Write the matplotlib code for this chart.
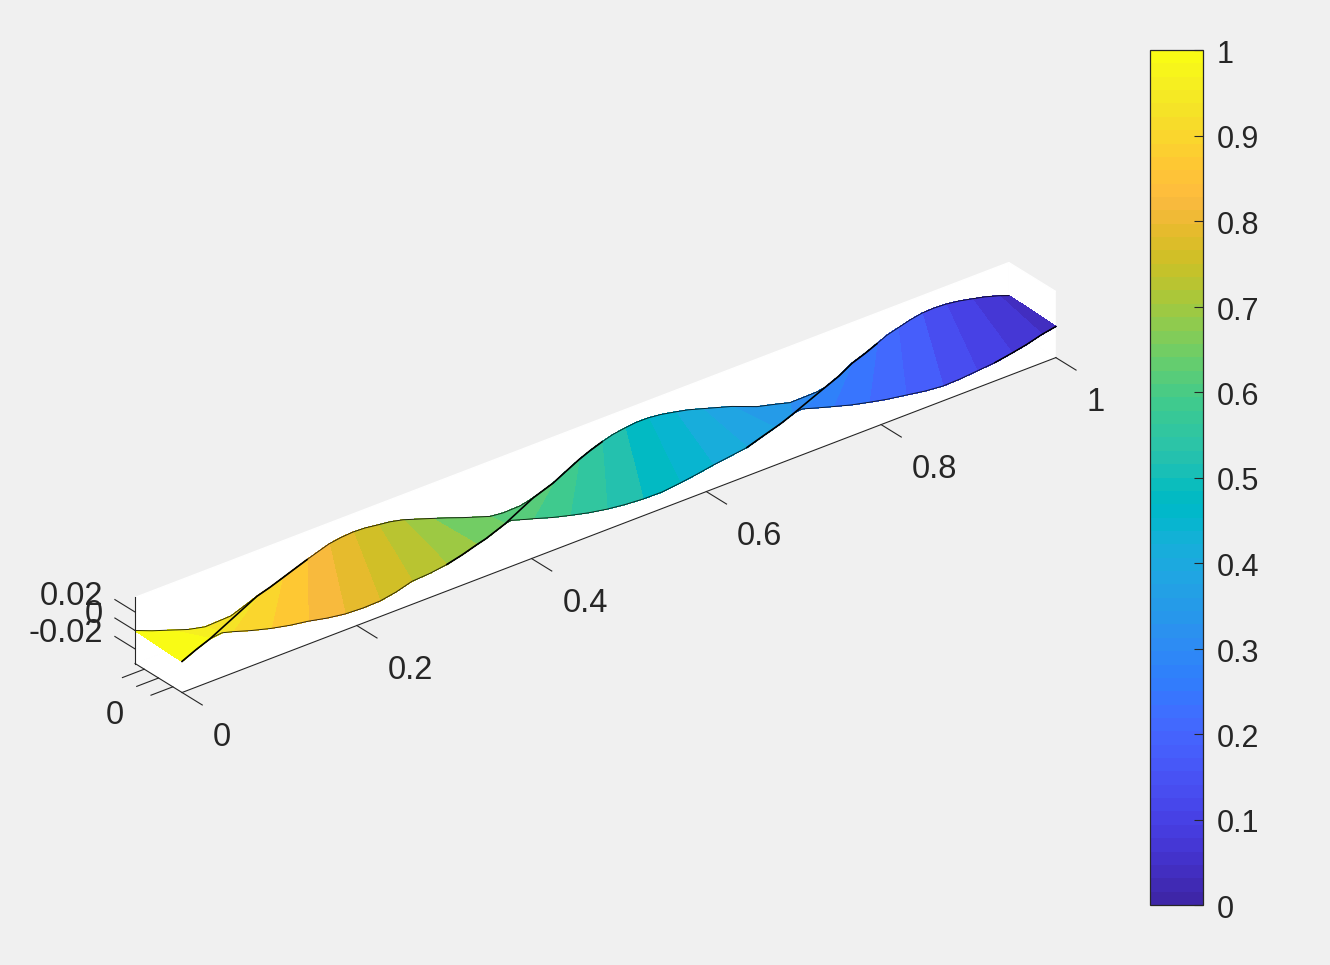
"""
Twisted ribbon surface with parula colouring and a colorbar.
"""

import numpy as np
from matplotlib import pyplot as plt
from matplotlib.cm import ScalarMappable
from matplotlib.colors import ListedColormap, Normalize
from matplotlib.transforms import ScaledTranslation

PARULA = [
    (0.2422, 0.1504, 0.6603), (0.2504, 0.1650, 0.7076), (0.2578, 0.1818, 0.7511),
    (0.2647, 0.1978, 0.7952), (0.2706, 0.2147, 0.8364), (0.2751, 0.2342, 0.8710),
    (0.2783, 0.2559, 0.8991), (0.2803, 0.2782, 0.9221), (0.2813, 0.3006, 0.9414),
    (0.2810, 0.3228, 0.9579), (0.2795, 0.3447, 0.9717), (0.2760, 0.3667, 0.9829),
    (0.2699, 0.3892, 0.9906), (0.2602, 0.4123, 0.9952), (0.2440, 0.4358, 0.9988),
    (0.2206, 0.4603, 0.9973), (0.1963, 0.4847, 0.9892), (0.1834, 0.5074, 0.9798),
    (0.1786, 0.5289, 0.9682), (0.1764, 0.5499, 0.9520), (0.1687, 0.5703, 0.9359),
    (0.1540, 0.5902, 0.9218), (0.1460, 0.6091, 0.9079), (0.1380, 0.6276, 0.8973),
    (0.1248, 0.6459, 0.8883), (0.1113, 0.6635, 0.8763), (0.0952, 0.6798, 0.8598),
    (0.0689, 0.6948, 0.8394), (0.0297, 0.7082, 0.8163), (0.0036, 0.7203, 0.7917),
    (0.0067, 0.7312, 0.7660), (0.0433, 0.7411, 0.7394), (0.0964, 0.7500, 0.7120),
    (0.1408, 0.7584, 0.6842), (0.1717, 0.7670, 0.6554), (0.1938, 0.7758, 0.6251),
    (0.2161, 0.7843, 0.5923), (0.2470, 0.7918, 0.5567), (0.2906, 0.7973, 0.5188),
    (0.3406, 0.8008, 0.4789), (0.3909, 0.8029, 0.4354), (0.4456, 0.8024, 0.3909),
    (0.5044, 0.7993, 0.3480), (0.5616, 0.7942, 0.3045), (0.6174, 0.7876, 0.2612),
    (0.6720, 0.7793, 0.2227), (0.7242, 0.7698, 0.1910), (0.7738, 0.7598, 0.1646),
    (0.8203, 0.7498, 0.1535), (0.8634, 0.7406, 0.1596), (0.9035, 0.7330, 0.1774),
    (0.9393, 0.7288, 0.2100), (0.9728, 0.7298, 0.2394), (0.9956, 0.7434, 0.2371),
    (0.9970, 0.7659, 0.2199), (0.9952, 0.7861, 0.1990), (0.9892, 0.8136, 0.1885),
    (0.9786, 0.8386, 0.1766), (0.9676, 0.8639, 0.1643), (0.9610, 0.8890, 0.1537),
    (0.9597, 0.9135, 0.1423), (0.9628, 0.9373, 0.1265), (0.9691, 0.9606, 0.1064),
    (0.9769, 0.9839, 0.0805),
]

# ribbon mesh, back edge (y max) and front edge (y min)
x_back = [0.0000, 0.0195, 0.0400, 0.0606, 0.0801, 0.1098, 0.1396, 0.1545, 0.1682, 0.1831,
          0.1968, 0.2094, 0.2220, 0.2357, 0.2494, 0.2632, 0.2780, 0.2918, 0.3066, 0.3227,
          0.3398, 0.3570, 0.3753, 0.4062, 0.4211, 0.4405, 0.4554, 0.4783, 0.4931, 0.5080,
          0.5206, 0.5343, 0.5469, 0.5606, 0.5732, 0.5870, 0.6018, 0.6178, 0.6327, 0.6487,
          0.6659, 0.6831, 0.7117, 0.7346, 0.7494, 0.7689, 0.7803, 0.7895, 0.8055, 0.8204,
          0.8352, 0.8490, 0.8604, 0.8730, 0.8867, 0.9005, 0.9142, 0.9279, 0.9428, 0.9577,
          0.9725, 0.9886, 0.9943, 1.0000]
z_back = [0.0000, -0.0074, -0.0141, -0.0209, -0.0251, -0.0240, -0.0135, -0.0092, -0.0045, 0.0007,
          0.0054, 0.0094, 0.0133, 0.0153, 0.0162, 0.0156, 0.0136, 0.0119, 0.0087, 0.0036,
          -0.0019, -0.0075, -0.0139, -0.0238, -0.0254, -0.0249, -0.0217, -0.0139, -0.0065, 0.0008,
          0.0059, 0.0105, 0.0140, 0.0160, 0.0174, 0.0173, 0.0157, 0.0126, 0.0095, 0.0049,
          -0.0001, -0.0051, -0.0157, -0.0212, -0.0251, -0.0249, -0.0246, -0.0232, -0.0166, -0.0082,
          -0.0030, 0.0027, 0.0077, 0.0110, 0.0146, 0.0171, 0.0176, 0.0169, 0.0149, 0.0118,
          0.0086, 0.0040, 0.0020, 0.0000]
x_front = [0.0000, 0.0160, 0.0320, 0.0389, 0.0458, 0.0515, 0.0572, 0.0789, 0.1018, 0.1236,
           0.1442, 0.1659, 0.1865, 0.2071, 0.2265, 0.2449, 0.2632, 0.2838, 0.3032, 0.3204,
           0.3375, 0.3478, 0.3593, 0.3696, 0.3764, 0.3844, 0.3936, 0.4016, 0.4233, 0.4439,
           0.4657, 0.4863, 0.5069, 0.5275, 0.5492, 0.5698, 0.5892, 0.6076, 0.6270, 0.6465,
           0.6625, 0.6785, 0.6865, 0.6922, 0.6979, 0.7037, 0.7071, 0.7105, 0.7277, 0.7449,
           0.7654, 0.7860, 0.8066, 0.8284, 0.8501, 0.8707, 0.8902, 0.9096, 0.9302, 0.9497,
           0.9668, 0.9840, 0.9920, 1.0000]
z_front = [-0.0021, 0.0048, 0.0108, 0.0116, 0.0123, 0.0108, 0.0093, 0.0027, -0.0033, -0.0078,
           -0.0109, -0.0154, -0.0184, -0.0194, -0.0189, -0.0158, -0.0108, -0.0096, -0.0070, -0.0030,
           0.0020, 0.0047, 0.0090, 0.0128, 0.0141, 0.0118, 0.0090, 0.0068, 0.0002, -0.0050,
           -0.0100, -0.0136, -0.0161, -0.0176, -0.0179, -0.0157, -0.0131, -0.0100, -0.0075, -0.0049,
           0.0001, 0.0049, 0.0074, 0.0096, 0.0118, 0.0135, 0.0138, 0.0137, 0.0086, 0.0037,
           -0.0020, -0.0066, -0.0108, -0.0142, -0.0177, -0.0197, -0.0192, -0.0176, -0.0159, -0.0127,
           -0.0094, -0.0049, -0.0035, -0.0021]
face_values = [1.000, 0.966, 0.931, 0.897, 0.862, 0.828, 0.793, 0.759, 0.724, 0.690,
               0.655, 0.621, 0.586, 0.552, 0.517, 0.483, 0.448, 0.414, 0.379, 0.345,
               0.310, 0.276, 0.241, 0.207, 0.172, 0.138, 0.103, 0.069, 0.034]
# mesh cells that make up each flat coloured face
cells_per_face = [2, 2, 2, 2, 2, 2, 2, 2, 2, 2,
                  3, 4, 2, 2, 2, 2, 2, 2, 2, 3,
                  3, 2, 2, 2, 2, 2, 2, 2, 2]

x_ticks = [0, 0.2, 0.4, 0.6, 0.8, 1]
x_tick_labels = ['0', '0.2', '0.4', '0.6', '0.8', '1']
y_ticks = [-0.02, 0, 0.02]
z_ticks = [-0.02, 0, 0.02]
z_tick_labels = ['-0.02', '0', '0.02']
cbar_ticks = [0, 0.1, 0.2, 0.3, 0.4, 0.5, 0.6, 0.7, 0.8, 0.9, 1]
cbar_tick_labels = ['0', '0.1', '0.2', '0.3', '0.4', '0.5', '0.6', '0.7', '0.8', '0.9', '1']

Y_LIM = 0.0329
Z_LIM = 0.0358
BG = '#f0f0f0'
INK = '#262626'

plt.rcParams['font.family'] = ['Liberation Sans', 'DejaVu Sans']

W, H = 1330, 965
fig = plt.figure(figsize=(W / 100, H / 100), dpi=100, facecolor=BG)
parula = ListedColormap(PARULA)
norm = Normalize(0, 1)

side = 1085
ax = fig.add_axes([38.3 / W, -69.7 / H, side / W, side / H],
                  projection='3d', computed_zorder=False)
ax.patch.set_facecolor(BG)
ax.set_proj_type('ortho')
ax.view_init(elev=29.1, azim=231.76)
ax.set_box_aspect((1112.5, 75.9, 75.6))
ax.set_xlim(0, 1, view_margin=0)
ax.set_ylim(-Y_LIM, Y_LIM, view_margin=0)
ax.set_zlim(-Z_LIM, Z_LIM, view_margin=0)

# white box walls only, the axis lines are drawn below
ax.grid(False)
ax.set_xticks([])
ax.set_yticks([])
ax.set_zticks([])
for axis in (ax.xaxis, ax.yaxis, ax.zaxis):
    axis.set_pane_color('white')
    axis.pane.set_edgecolor('white')
    axis.line.set_color((0, 0, 0, 0))

n_cols = len(x_back)
y_back = [Y_LIM] * n_cols
y_front = [-Y_LIM] * n_cols
X = np.array([x_back, x_front])
Y = np.array([y_back, y_front])
Z = np.array([z_back, z_front])
cell_values = np.repeat(face_values, cells_per_face)
colors = parula(norm(np.append(cell_values, cell_values[-1])))
# no antialiasing here, it leaves light streaks between cells of one face
ax.plot_surface(X, Y, Z, rcount=2, ccount=n_cols, facecolors=np.stack([colors, colors]),
                shade=False, linewidth=0.3, antialiased=False, zorder=1)

# thin outline along both edges
ax.plot(x_back, y_back, z_back, color='black', lw=0.7, alpha=0.8, zorder=2)
ax.plot(x_front, y_front, z_front, color='black', lw=0.7, alpha=0.8, zorder=2)
ax.plot(x_front[-6:], y_front[-6:], z_front[-6:], color='black', lw=1.0, zorder=2)

# the darker line where the ribbon turns edge-on, (front columns, back columns)
for front_cols, back_cols in [((0, 3), (6, 11)), ((18, 24), (26, 32)), ((39, 45), (47, 52))]:
    i0, i1 = front_cols
    j0, j1 = back_cols
    xs = x_front[i0:i1] + x_back[j0:j1]
    ys = y_front[i0:i1] + y_back[j0:j1]
    zs = z_front[i0:i1] + z_back[j0:j1]
    ax.plot(xs, ys, zs, color='black', lw=1.2, zorder=3)

# axis lines
ax.plot([0, 1], [-Y_LIM, -Y_LIM], [-Z_LIM, -Z_LIM], color=INK, lw=0.8, zorder=2)
ax.plot([0, 0], [-Y_LIM, Y_LIM], [-Z_LIM, -Z_LIM], color=INK, lw=0.8, zorder=2)
ax.plot([0, 0], [Y_LIM, Y_LIM], [-Z_LIM, Z_LIM], color=INK, lw=0.8, zorder=2)

span = 2 * Y_LIM
for tick, label in zip(x_ticks, x_tick_labels):
    ax.plot([tick, tick], [-Y_LIM, -Y_LIM - 0.43 * span], [-Z_LIM, -Z_LIM], color=INK, lw=0.8, zorder=2)
    ax.text(tick - 0.0297, -Y_LIM - 1.21 * span, -Z_LIM, label, ha='left', va='center',
            fontsize=23.5, color=INK, zorder=4)
for tick in y_ticks:
    ax.plot([0, -0.025], [tick, tick], [-Z_LIM, -Z_LIM], color=INK, lw=0.8, zorder=2)
ax.text(-0.074, -0.45 * span, -Z_LIM, '0', ha='center', va='center',
        fontsize=23.5, color=INK, zorder=4)
for tick, label in zip(z_ticks, z_tick_labels):
    ax.plot([0, 0], [Y_LIM, Y_LIM + 0.43 * span], [tick, tick], color=INK, lw=0.8, zorder=2)
    ax.text(0, Y_LIM + 0.68 * span, tick - 0.0045, label, ha='right', va='center',
            fontsize=23.5, color=INK, zorder=4)

cax = fig.add_axes([1149.5 / W, (H - 905) / H, 53 / W, 855 / H])
cbar = fig.colorbar(ScalarMappable(norm=norm, cmap=parula), cax=cax)
cbar.set_ticks(cbar_ticks, labels=cbar_tick_labels)
cbar.ax.tick_params(direction='in', length=6.5, width=0.8, color=INK, labelcolor=INK,
                    labelsize=22, pad=10)
cbar.outline.set_edgecolor(INK)
cbar.outline.set_linewidth(0.9)
down = ScaledTranslation(0, -1.5 / 100, fig.dpi_scale_trans)
for tick_label in cbar.ax.get_yticklabels():
    tick_label.set_transform(tick_label.get_transform() + down)

fig.savefig('out.png', dpi=100, facecolor=BG)
